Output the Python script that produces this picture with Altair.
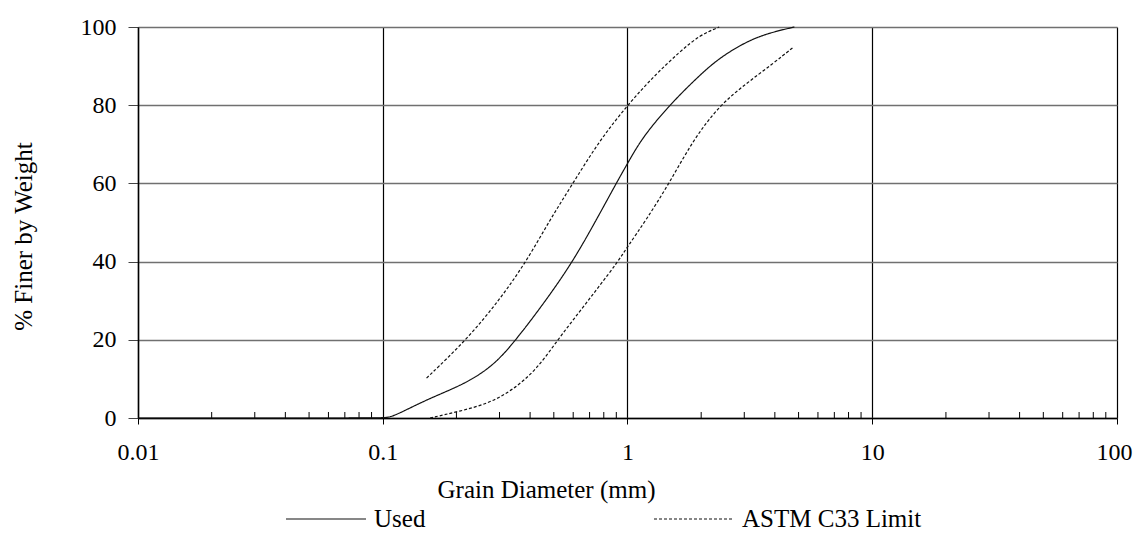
import altair as alt
import pandas as pd

# Grain size distribution data
used_x = [0.01, 0.05, 0.1, 0.1068, 0.117, 0.156, 0.213, 0.282, 0.351, 0.466, 0.598, 0.745, 0.899,
          1.0, 1.154, 1.48, 1.85, 2.30, 2.96, 3.68, 4.81]
used_y = [0, 0, 0, 0.2, 1.2, 5.1, 8.5, 13.2, 20, 30.2, 40, 50.6, 60,
          65.1, 71.9, 79.9, 86, 91.5, 95.8, 98.3, 100]

upper_x = [0.151, 0.22, 0.30, 0.386, 0.48, 0.598, 0.769, 1.0, 1.27, 1.63, 1.97, 2.37]
upper_y = [10.2, 20, 30.2, 40, 50.5, 60, 71, 80, 87.2, 93.6, 97.9, 100]

lower_x = [0.156, 0.206, 0.273, 0.34, 0.424, 0.519, 0.637, 0.76, 0.914, 1.0, 1.19, 1.48, 1.85,
           2.37, 3.05, 3.92, 4.73]
lower_y = [0, 1.7, 3.8, 7.2, 12.3, 20, 27.2, 33.4, 40, 43.8, 50.6, 60, 71,
           79.9, 85.5, 90.6, 94.7]

x_major = [0.01, 0.1, 1, 10, 100]
x_minor = [m * d for d in [0.01, 0.1, 1, 10] for m in range(2, 10)]
y_ticks = [0, 20, 40, 60, 80, 100]

series_names = ["Used", "ASTM C33 Limit"]

W, H = 979, 391
FONT = "Liberation Serif"

rows = []
for x, y in zip(used_x, used_y):
    rows.append({"d": x, "p": y, "series": "Used", "curve": "used"})
for x, y in zip(upper_x, upper_y):
    rows.append({"d": x, "p": y, "series": "ASTM C33 Limit", "curve": "upper"})
for x, y in zip(lower_x, lower_y):
    rows.append({"d": x, "p": y, "series": "ASTM C33 Limit", "curve": "lower"})
df = pd.DataFrame(rows)

xscale = alt.Scale(type="log", domain=[0.01, 100], nice=False)
yscale = alt.Scale(domain=[0, 100], nice=False, zero=True)

lines = alt.Chart(df).mark_line(interpolate="basis", strokeWidth=1.2, color="#111").encode(
    x=alt.X("d:Q", scale=xscale,
            axis=alt.Axis(values=x_major, labelExpr="datum.value + ''", title="Grain Diameter (mm)",
                          grid=True, gridColor="#000", gridWidth=1.2, tickSize=6, tickColor="#000",
                          domainColor="#000", domainWidth=1.5, labelPadding=16,
                          labelOffset={"condition": {"test": "datum.value === 100", "value": -3}, "value": 0},
                          titleX=408, titleY=59, titleBaseline="top", titleAlign="center",
                          labelFlush=False)),
    y=alt.Y("p:Q", scale=yscale,
            axis=alt.Axis(values=y_ticks, title="% Finer by Weight", grid=True, gridColor="#707070",
                          gridWidth=1.6, tickSize=10, tickColor="#444", domainColor="#000",
                          domainWidth=1.5, labelPadding=12,
                          titleX=-115, titleY=209, titleBaseline="middle", titleAlign="center")),
    strokeDash=alt.StrokeDash("series:N",
                              scale=alt.Scale(domain=series_names, range=[[1, 0], [3, 2]]),
                              legend=alt.Legend(title=None, orient="none", legendX=147, legendY=451,
                                                direction="horizontal", symbolType="stroke",
                                                symbolSize=6400, symbolStrokeColor="#111",
                                                symbolStrokeWidth=1.2, columnPadding=225,
                                                labelOffset=7, labelFontSize=25, labelFont=FONT,
                                                labelLimit=500, labelColor="#000")),
    detail="curve:N",
)

minor = alt.Chart(pd.DataFrame({"d": x_minor})).mark_rule(color="#000", strokeWidth=1).encode(
    x=alt.X("d:Q", scale=xscale),
    y=alt.value(H),
    y2=alt.value(H - 6),
)

chart = alt.layer(minor, lines).properties(
    width=W, height=H,
    autosize=alt.AutoSizeParams(type="none"),
    padding={"left": 130, "top": 19, "right": 16, "bottom": 113},
).configure_view(strokeWidth=0).configure_axis(
    labelFont=FONT, titleFont=FONT, labelFontSize=24, titleFontSize=25,
    labelColor="#000", titleColor="#000", titleFontWeight="normal",
).configure_legend(labelFont=FONT)

chart.save("out.html", embed_options={"renderer": "svg", "actions": False})
